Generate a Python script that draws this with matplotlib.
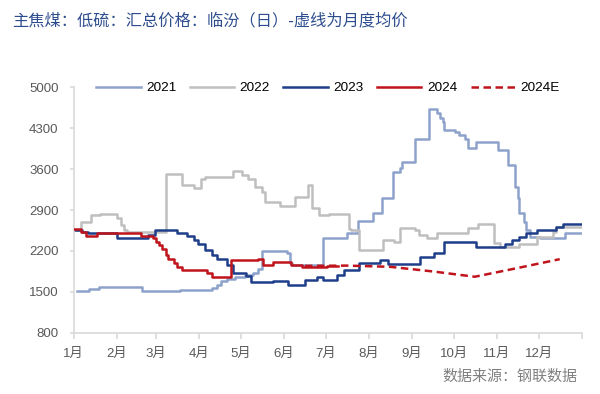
import matplotlib
matplotlib.use("Agg")
import matplotlib.pyplot as plt
import numpy as np

plt.rcParams['font.family'] = ['Liberation Sans', 'Noto Sans CJK SC', 'DejaVu Sans']

# 日序（从1月1日起的天数）与价格，阶梯数据
d2021 = [2, 11, 18, 49, 76, 99, 103, 106, 110, 116, 123, 129, 132, 135, 153, 155, 157, 164,
         179, 196, 199, 204, 215, 221, 229, 234, 236, 245, 255, 261, 263, 265, 266, 274, 277,
         281, 283, 289, 305, 312, 317, 319, 320, 323, 325, 328, 335, 353, 365]
v2021 = [1520, 1550, 1580, 1510, 1530, 1560, 1620, 1680, 1720, 1760, 1790, 1830, 1900, 2200,
         2160, 2000, 1960, 1960, 2420, 2500, 2510, 2720, 2850, 3100, 3550, 3620, 3720, 4110,
         4620, 4550, 4480, 4400, 4270, 4230, 4180, 4110, 3960, 4060, 3920, 3670, 3300, 3100,
         2850, 2700, 2560, 2440, 2420, 2510, 2510]

d2022 = [2, 5, 12, 19, 31, 34, 36, 38, 66, 78, 86, 91, 94, 114, 121, 125, 130, 135, 137, 148,
         159, 168, 171, 176, 183, 198, 199, 205, 222, 230, 234, 245, 248, 254, 261, 283, 290,
         302, 306, 320, 333, 344, 346, 365]
v2022 = [2560, 2695, 2815, 2835, 2760, 2640, 2560, 2520, 3520, 3330, 3280, 3430, 3460, 3560,
         3500, 3430, 3290, 3200, 3030, 2970, 3120, 3320, 2940, 2815, 2840, 2570, 2560, 2220,
         2390, 2350, 2600, 2560, 2470, 2420, 2510, 2590, 2660, 2340, 2270, 2320, 2440, 2520,
         2610, 2610]

d2023 = [0, 6, 10, 31, 53, 58, 74, 81, 86, 89, 94, 99, 103, 110, 114, 124, 127, 143, 154, 166,
         175, 179, 189, 194, 205, 220, 226, 249, 259, 266, 289, 310, 315, 320, 325, 333, 346,
         351, 365]
v2023 = [2560, 2524, 2500, 2430, 2470, 2550, 2510, 2450, 2390, 2320, 2220, 2130, 2060, 1960,
         1824, 1770, 1670, 1690, 1620, 1710, 1760, 1710, 1790, 1880, 2000, 2050, 1970, 2097,
         2166, 2353, 2268, 2319, 2388, 2440, 2507, 2558, 2610, 2661, 2661]

d2024 = [0, 5, 9, 17, 48, 57, 59, 61, 63, 66, 68, 72, 74, 78, 96, 99, 113, 132, 136, 143, 156,
         164, 182, 190]
v2024 = [2570, 2520, 2460, 2500, 2460, 2430, 2350, 2300, 2230, 2130, 2060, 2000, 1930, 1875,
         1830, 1760, 2050, 2065, 1965, 2010, 1965, 1930, 1945, 1945]

# 月度均价（月中）
d2024e = [166, 196, 227, 258, 288, 319, 349]
v2024e = [1945, 1950, 1930, 1850, 1760, 1910, 2060]

month_days = [0, 31, 59, 90, 120, 151, 181, 212, 243, 273, 304, 334, 365]
month_labels = [f"{i}月" for i in range(1, 13)] + [""]
yticks = [800, 1500, 2200, 2900, 3600, 4300, 5000]

fig = plt.figure(figsize=(6, 3.94), dpi=100)
ax = fig.add_axes([0.123, 0.155, 0.847, 0.624])

ax.plot(d2021, v2021, color='#8DA2CB', lw=1.8, drawstyle='steps-post', label='2021')
ax.plot(d2022, v2022, color='#BFBFBF', lw=1.8, drawstyle='steps-post', label='2022')
ax.plot(d2023, v2023, color='#1F3E8A', lw=1.8, drawstyle='steps-post', label='2023')
ax.plot(d2024e, v2024e, color='#C0141C', lw=1.8, ls=(0, (3, 1.8)), zorder=3)
ax.plot(d2024, v2024, color='#C0141C', lw=1.8, drawstyle='steps-post', label='2024', zorder=4)
ax.plot([], [], color='#C0141C', lw=1.8, ls=(0, (3, 1.8)), label='2024E')

ax.set_xlim(0, 365)
ax.set_ylim(800, 5000)
ax.set_xticks(month_days)
ax.set_xticklabels(month_labels)
ax.set_yticks(yticks)

for s in ['top', 'right']:
    ax.spines[s].set_visible(False)
for s in ['left', 'bottom']:
    ax.spines[s].set_color('#D9D9D9')
    ax.spines[s].set_linewidth(1.2)

ax.tick_params(axis='x', colors='#D9D9D9', labelcolor='#595959', labelsize=9.5,
               length=4, width=1.2, pad=7)
ax.tick_params(axis='y', colors='#D9D9D9', labelcolor='#595959', labelsize=9.5,
               length=3, width=1.2, pad=8)

leg = ax.legend(loc='upper center', bbox_to_anchor=(0.5, 1.07), ncol=5, frameon=False,
                fontsize=9.7, handlelength=3.3, handletextpad=0.4, columnspacing=1.0)

fig.text(0.02, 0.948, "主焦煤：低硫：汇总价格：临汾（日）-虚线为月度均价",
         fontsize=11.7, color='#2E4D8F', family=['Noto Sans CJK SC', 'DejaVu Sans'],
         va='center', ha='left')
fig.text(0.963, 0.043, "数据来源：钢联数据", fontsize=10.8, color='#808080',
         family=['Noto Sans CJK SC', 'DejaVu Sans'], va='center', ha='right')

fig.savefig("out.png", dpi=100)
